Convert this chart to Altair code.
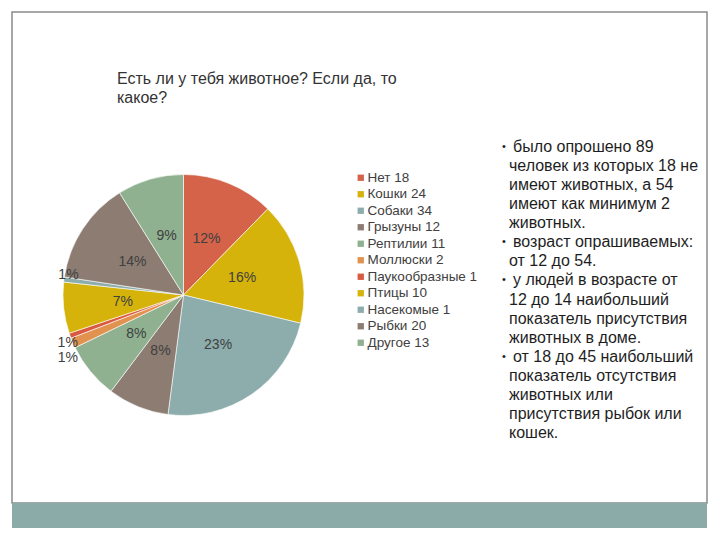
import altair as alt
import pandas as pd

# ---- data ----
categories = ["Нет", "Кошки", "Собаки", "Грызуны", "Рептилии", "Моллюски",
              "Паукообразные", "Птицы", "Насекомые", "Рыбки", "Другое"]
values = [18, 24, 34, 12, 11, 2, 1, 10, 1, 20, 13]
colors = ["#D4634A", "#D5B30B", "#8CADAC", "#8C7C72", "#8FB190", "#E2924F",
          "#D95A40", "#D5B30B", "#8CADAC", "#8C7C72", "#8FB190"]
title_lines = ["Есть ли у тебя животное? Если да, то", "какое?"]
note_lines = [
    "было опрошено 89",
    "человек из которых 18 не",
    "имеют животных, а 54",
    "имеют как минимум 2",
    "животных.",
    "возраст опрашиваемых:",
    "от 12 до 54.",
    "у людей в возрасте от",
    "12 до 14 наибольший",
    "показатель присутствия",
    "животных в доме.",
    "от 18 до 45 наибольший",
    "показатель отсутствия",
    "животных или",
    "присутствия рыбок или",
    "кошек.",
]
note_bullets = [True, False, False, False, False, True, False, True, False,
                False, False, True, False, False, False, False]

FONT = "Liberation Sans"
CX, CY, R = 183.5, 295, 120.5

total = sum(values)
labels = [f"{c} {v}" for c, v in zip(categories, values)]
pie_df = pd.DataFrame({
    "label": labels,
    "cat": categories,
    "value": values,
    "order": list(range(len(values))),
    "pct": [f"{round(v / total * 100)}%" for v in values],
})

one = pd.DataFrame({"k": [0]})

frame = alt.Chart(one).mark_rect(fill="white", stroke="#8a8a8a", strokeWidth=1.5).encode(
    x=alt.value(12), x2=alt.value(707), y=alt.value(12), y2=alt.value(503))
bottom_bar = alt.Chart(one).mark_rect(fill="#8AABA8").encode(
    x=alt.value(12), x2=alt.value(707), y=alt.value(503), y2=alt.value(528))

base = alt.Chart(pie_df).encode(
    theta=alt.Theta("value:Q", stack=True),
    order=alt.Order("order:Q"),
    x=alt.value(CX), y=alt.value(CY),
)

arcs = base.mark_arc(outerRadius=R, stroke="white", strokeWidth=0.6).encode(
    color=alt.Color("label:N", scale=alt.Scale(domain=labels, range=colors),
                    legend=alt.Legend(orient="none", legendX=354, legendY=171, title=None,
                                      symbolType="square", symbolSize=40, symbolStrokeWidth=0,
                                      labelFontSize=13.5, labelFont=FONT, labelColor="#404040",
                                      rowPadding=1.5, padding=0, labelOffset=0, labelLimit=300))
)

inner = base.mark_text(radius=61, fontSize=14, font=FONT, color="#404040").encode(
    text=alt.condition("datum.value >= 3", alt.Text("pct:N"), alt.value("")))


def outer(cat, radius, dy):
    return base.mark_text(radius=radius, dy=dy, fontSize=14, font=FONT, color="#404040").encode(
        text=alt.condition(f"datum.cat == '{cat}'", alt.Text("pct:N"), alt.value("")))


outer_insect = outer("Насекомые", 116, -5)
outer_moll = outer("Моллюски", 126, 13)
outer_spider = outer("Паукообразные", 123, 6)

title_df = pd.DataFrame({"t": title_lines, "i": list(range(len(title_lines)))})
title = alt.Chart(title_df).transform_calculate(yy="78.5 + datum.i * 19").mark_text(
    align="left", baseline="middle", fontSize=16, font=FONT, color="#333333").encode(
    x=alt.value(117), y=alt.Y("yy:Q", scale=None, axis=None), text="t:N")

note_df = pd.DataFrame({"t": note_lines, "b": note_bullets, "i": list(range(len(note_lines)))})
notes = alt.Chart(note_df).transform_calculate(
    yy="147 + datum.i * 19.07", xx="datum.b ? 513 : 509").mark_text(
    align="left", baseline="middle", fontSize=16, font=FONT, color="#1e1e1e").encode(
    x=alt.X("xx:Q", scale=None, axis=None), y=alt.Y("yy:Q", scale=None, axis=None), text="t:N")
bullets = alt.Chart(note_df).transform_filter("datum.b").transform_calculate(
    yy="147 + datum.i * 19.07").mark_text(
    align="left", baseline="middle", fontSize=11, font=FONT, color="#1e1e1e", text="•").encode(
    x=alt.value(502), y=alt.Y("yy:Q", scale=None, axis=None))

chart = alt.layer(frame, bottom_bar, arcs, inner, outer_insect, outer_moll, outer_spider,
                  title, notes, bullets).properties(
    width=720, height=540, autosize=alt.AutoSizeParams(type="none"), padding=0,
    background="white",
).configure_view(stroke=None)

chart.save("out.html", embed_options={"renderer": "svg", "actions": False})
